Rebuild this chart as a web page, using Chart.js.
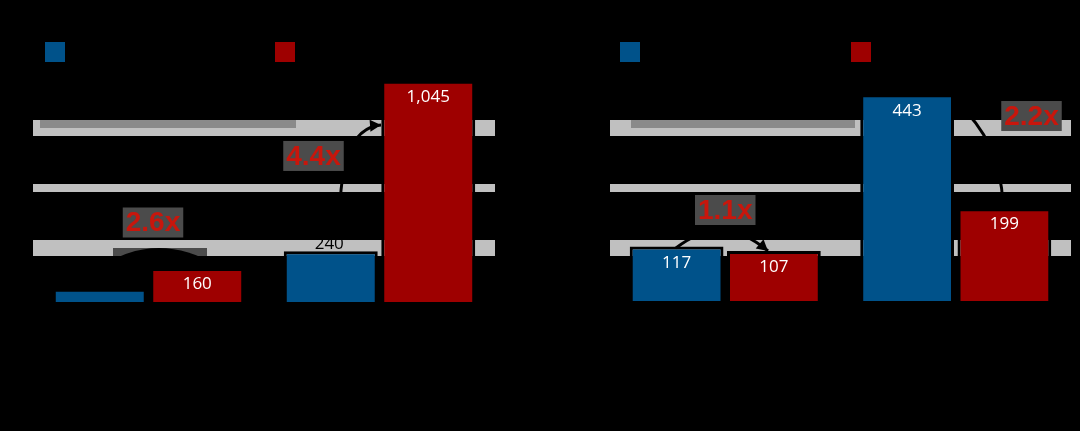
<!DOCTYPE html>
<html>
<head>
<meta charset="utf-8">
<script src="https://cdn.jsdelivr.net/npm/chart.js@4.4.1/dist/chart.umd.min.js"></script>
<style>
  html, body { margin: 0; padding: 0; background: #000; }
  #wrap { position: relative; width: 1080px; height: 431px; overflow: hidden; background: #000; }
  .panel { position: absolute; top: 0; width: 540px; height: 431px; }
  canvas { display: block; }
  .lg { position: absolute; top: 42px; height: 20px; display: flex; align-items: center;
        font: 15px "Open Sans", sans-serif; color: #000; white-space: nowrap; }
  .sw { width: 20px; height: 20px; margin-right: 8px; flex: none; }
</style>
</head>
<body>
<div id="wrap">
  <div class="panel" style="left:0"><canvas id="c1" width="540" height="431"></canvas></div>
  <div class="panel" style="left:540px"><canvas id="c2" width="540" height="431"></canvas></div>
  <div class="lg" style="left:45px"><span class="sw" style="background:#00528a"></span><span id="l1a"></span></div>
  <div class="lg" style="left:275px"><span class="sw" style="background:#9e0000"></span><span id="l1b"></span></div>
  <div class="lg" style="left:620px"><span class="sw" style="background:#00528a"></span><span id="l2a"></span></div>
  <div class="lg" style="left:851px"><span class="sw" style="background:#9e0000"></span><span id="l2b"></span></div>
</div>
<script>
// ---------- data ----------
const seriesNames = ['Previous', 'Current'];
const leftCategories = ['Workload A', 'Workload B'];
const rightCategories = ['Workload C', 'Workload D'];
const leftBlue = [62, 240];
const leftRed = [160, 1045];
const rightBlue = [117, 443];
const rightRed = [107, 199];
const leftRatios = ['2.6x', '4.4x'];
const rightRatios = ['1.1x', '2.2x'];
const leftGridTicks = [255, 538, 822];
const rightGridTicks = [114, 242, 371];
const leftMax = 1100;
const rightMax = 495;

document.getElementById('l1a').textContent = seriesNames[0];
document.getElementById('l1b').textContent = seriesNames[1];
document.getElementById('l2a').textContent = seriesNames[0];
document.getElementById('l2b').textContent = seriesNames[1];

const BLUE = '#00528a', RED = '#9e0000';

// darker strip on the upper half of the top grid line (styling only)
const gridShade = {
  id: 'gridShade',
  beforeDatasetsDraw(chart, args, opts) {
    const ctx = chart.ctx, ca = chart.chartArea, ys = chart.scales.y;
    const yTop = ys.getPixelForValue(opts.tick);
    ctx.save();
    ctx.fillStyle = '#8a8a8a';
    opts.ranges.forEach(r => {
      ctx.fillRect(Math.round(ca.left + r[0]), Math.round(yTop) - 8, r[1] - r[0], 8);
    });
    ctx.restore();
  }
};

const valueLabels = {
  id: 'valueLabels',
  afterDatasetsDraw(chart, args, opts) {
    const ctx = chart.ctx;
    ctx.save();
    ctx.font = '17px "Open Sans", sans-serif';
    ctx.textAlign = 'center';
    ctx.textBaseline = 'middle';
    chart.data.datasets.forEach((ds, di) => {
      const meta = chart.getDatasetMeta(di);
      meta.data.forEach((bar, i) => {
        const txt = ds.data[i].toLocaleString('en-US');
        if (opts.outside && di === 0) {
          ctx.fillStyle = '#000';
          ctx.fillText(txt, bar.x - 1.5, bar.y - 7);
        } else {
          ctx.fillStyle = '#fff';
          ctx.fillText(txt, bar.x, bar.y + 16.5);
        }
      });
    });
    ctx.restore();
  }
};

function arrowHead(ctx, from, to, len, half) {
  const a = Math.atan2(to[1] - from[1], to[0] - from[0]);
  ctx.beginPath();
  ctx.moveTo(to[0], to[1]);
  ctx.lineTo(to[0] - len * Math.cos(a) + half * Math.sin(a), to[1] - len * Math.sin(a) - half * Math.cos(a));
  ctx.lineTo(to[0] - len * Math.cos(a) - half * Math.sin(a), to[1] - len * Math.sin(a) + half * Math.cos(a));
  ctx.closePath();
  ctx.fill();
}

const ratioNotes = {
  id: 'ratioNotes',
  afterDatasetsDraw(chart, args, opts) {
    const ctx = chart.ctx;
    const xs = chart.scales.x;
    const m0 = chart.getDatasetMeta(0), m1 = chart.getDatasetMeta(1);
    ctx.save();
    opts.notes.forEach((n, k) => {
      const cx = xs.getPixelForValue(n.cat);
      const yb = m0.data[n.cat].y, yr = m1.data[n.cat].y;
      const P = (p) => [cx + p[0], (p[1] === 'b' ? yb : yr) + p[2]];
      const p0 = P(n.from), pc = P(n.ctrl), p1 = P(n.to);
      if (n.band) {
        const b0 = P(n.band[0]), b1 = P(n.band[1]);
        ctx.fillStyle = '#4b4b4b';
        ctx.fillRect(b0[0], b0[1], b1[0] - b0[0], b1[1] - b0[1]);
      }
      ctx.fillStyle = '#000';
      ctx.strokeStyle = '#000';
      ctx.beginPath();
      ctx.moveTo(p0[0], p0[1]);
      ctx.quadraticCurveTo(pc[0], pc[1], p1[0], p1[1]);
      if (n.dome) {
        ctx.closePath();
        ctx.fill();
      } else {
        ctx.lineWidth = 3;
        ctx.stroke();
        arrowHead(ctx, pc, p1, 11, 6);
      }
      const t = P(n.text);
      ctx.font = 'bold 28px "Liberation Sans", Arial, sans-serif';
      const w = ctx.measureText(opts.labels[k]).width;
      ctx.fillStyle = '#4b4b4b';
      ctx.fillRect(t[0] - w / 2 - 3, t[1] - 15, w + 6, 30);
      ctx.fillStyle = '#c8160c';
      ctx.textAlign = 'center';
      ctx.textBaseline = 'middle';
      ctx.fillText(opts.labels[k], t[0], t[1] + 1);
    });
    ctx.restore();
  }
};

function makeChart(id, cats, blue, red, max, grid, shadeRanges, pad, yWidth, xHeight, notes, ratios, outside) {
  return new Chart(document.getElementById(id), {
    type: 'bar',
    data: {
      labels: cats,
      datasets: [
        { label: seriesNames[0], data: blue, backgroundColor: BLUE, borderColor: '#000',
          borderWidth: 3, borderSkipped: 'bottom', categoryPercentage: 0.844, barPercentage: 0.964 },
        { label: seriesNames[1], data: red, backgroundColor: RED, borderColor: '#000',
          borderWidth: 3, borderSkipped: 'bottom', categoryPercentage: 0.844, barPercentage: 0.964 }
      ]
    },
    options: {
      responsive: false,
      animation: false,
      layout: { padding: pad },
      plugins: {
        legend: { display: false },
        tooltip: { enabled: false },
        gridShade: { tick: grid[2], ranges: shadeRanges },
        valueLabels: { outside: outside },
        ratioNotes: { notes: notes, labels: ratios }
      },
      scales: {
        x: {
          grid: { display: false },
          border: { display: false },
          ticks: { color: '#000', font: { size: 15, family: '"Open Sans", sans-serif' } },
          afterFit: (s) => { s.height = xHeight; }
        },
        y: {
          min: 0,
          max: max,
          afterBuildTicks: (s) => { s.ticks = grid.map(v => ({ value: v })); },
          ticks: { display: false },
          border: { display: false },
          grid: {
            drawTicks: false,
            color: '#c0c0c0',
            lineWidth: (c) => c.tick.value === grid[1] ? 8 : 16
          },
          afterFit: (s) => { s.width = yWidth; }
        }
      }
    },
    plugins: [gridShade, valueLabels, ratioNotes]
  });
}

// note geometry: [dx from category centre, reference bar ('b' blue / 'r' red), dy from that bar's top]
const leftNotes = [
  { cat: 0, dome: true,
    band: [[-35.5, 'r', -20.1], [58.5, 'r', -12.1]],
    from: [-52.5, 'r', 1.9], ctrl: [6.5, 'r', -40.1], to: [69.5, 'r', -2.1],
    text: [4.5, 'r', -45.6] },
  { cat: 1,
    from: [-39.5, 'b', -13.2], ctrl: [-43.5, 'r', 47.35], to: [1.5, 'r', 44.35],
    text: [-66, 'b', -95.2] }
];
const rightNotes = [
  { cat: 0,
    from: [-49.25, 'b', 1.6], ctrl: [-3.25, 'b', -34.4], to: [42.75, 'r', -0.1],
    text: [0, 'b', -36.4] },
  { cat: 1,
    from: [1.25, 'b', 8.75], ctrl: [44.25, 'b', 45.75], to: [47.25, 'r', -4.1],
    text: [75.75, 'b', 21.75] }
];

makeChart('c1', leftCategories, leftBlue, leftRed, leftMax, leftGridTicks, [[7, 263]],
  { top: 69, left: 0, right: 45, bottom: 0 }, 33, 129, leftNotes, leftRatios, true);
makeChart('c2', rightCategories, rightBlue, rightRed, rightMax, rightGridTicks, [[21, 245]],
  { top: 70, left: 0, right: 9, bottom: 0 }, 70, 130, rightNotes, rightRatios, false);
</script>
</body>
</html>
